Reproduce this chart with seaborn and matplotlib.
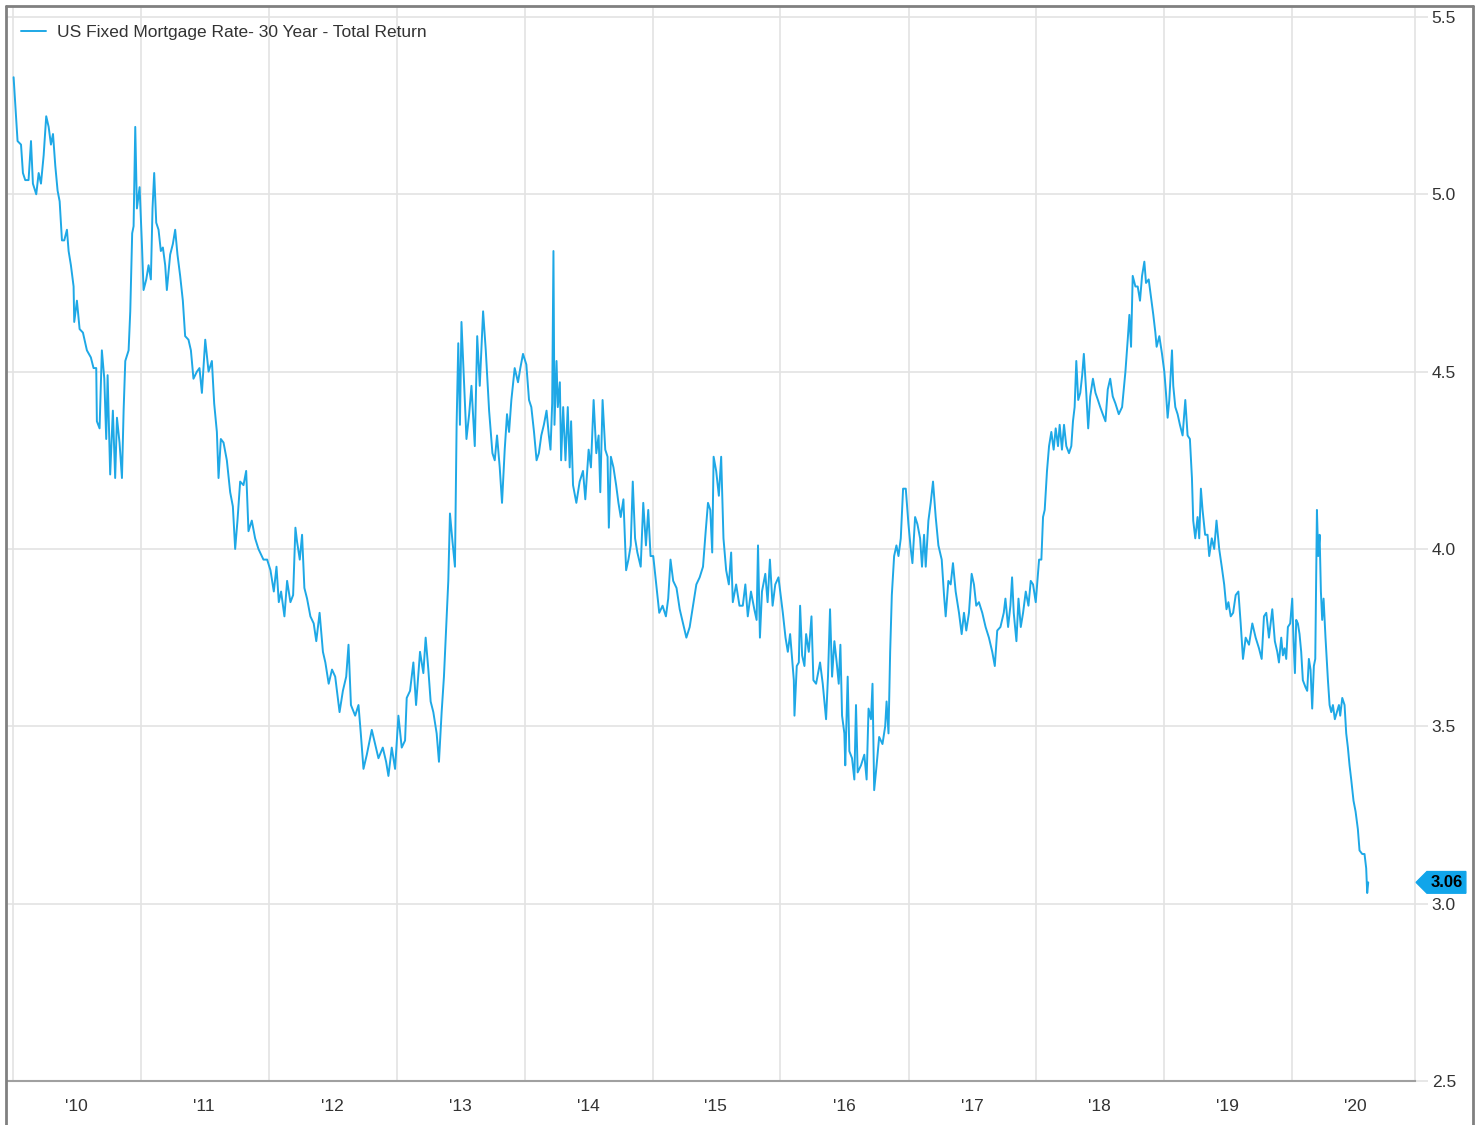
import matplotlib.pyplot as plt
import matplotlib.dates as mdates
from matplotlib.lines import Line2D
from matplotlib.path import Path
import numpy as np
import pandas as pd
import seaborn as sns

series_name = 'US Fixed Mortgage Rate- 30 Year - Total Return'

year_pos = [
    2010.005, 2010.036, 2010.063, 2010.078, 2010.096, 2010.122, 2010.141, 2010.156, 2010.182, 2010.201,
    2010.219, 2010.240, 2010.260, 2010.279, 2010.297, 2010.313, 2010.331, 2010.349, 2010.365, 2010.383,
    2010.401, 2010.422, 2010.435, 2010.453, 2010.474, 2010.479, 2010.500, 2010.521, 2010.547, 2010.578,
    2010.609, 2010.630, 2010.651, 2010.656, 2010.677, 2010.695, 2010.714, 2010.729, 2010.740, 2010.760,
    2010.781, 2010.799, 2010.813, 2010.833, 2010.852, 2010.865, 2010.878, 2010.904, 2010.917, 2010.932,
    2010.943, 2010.956, 2010.969, 2010.990, 2011.008, 2011.021, 2011.042, 2011.060, 2011.078, 2011.091,
    2011.104, 2011.120, 2011.138, 2011.156, 2011.172, 2011.190, 2011.203, 2011.229, 2011.250, 2011.268,
    2011.286, 2011.307, 2011.328, 2011.346, 2011.372, 2011.391, 2011.411, 2011.438, 2011.458, 2011.477,
    2011.503, 2011.529, 2011.555, 2011.573, 2011.594, 2011.607, 2011.625, 2011.646, 2011.672, 2011.698,
    2011.719, 2011.737, 2011.755, 2011.776, 2011.802, 2011.823, 2011.841, 2011.867, 2011.893, 2011.919,
    2011.958, 2011.987, 2012.013, 2012.039, 2012.060, 2012.078, 2012.096, 2012.122, 2012.143, 2012.169,
    2012.190, 2012.208, 2012.221, 2012.242, 2012.260, 2012.278, 2012.299, 2012.325, 2012.351, 2012.371,
    2012.397, 2012.423, 2012.442, 2012.468, 2012.494, 2012.519, 2012.553, 2012.579, 2012.605, 2012.623,
    2012.642, 2012.675, 2012.701, 2012.719, 2012.740, 2012.766, 2012.805, 2012.831, 2012.857, 2012.891,
    2012.917, 2012.935, 2012.961, 2012.987, 2013.013, 2013.039, 2013.065, 2013.078, 2013.104, 2013.130,
    2013.151, 2013.182, 2013.208, 2013.226, 2013.247, 2013.265, 2013.286, 2013.312, 2013.330, 2013.351,
    2013.369, 2013.384, 2013.403, 2013.416, 2013.436, 2013.455, 2013.468, 2013.481, 2013.494, 2013.506,
    2013.525, 2013.545, 2013.566, 2013.584, 2013.610, 2013.629, 2013.649, 2013.675, 2013.696, 2013.722,
    2013.748, 2013.766, 2013.784, 2013.805, 2013.823, 2013.844, 2013.862, 2013.878, 2013.896, 2013.922,
    2013.948, 2013.966, 2013.987, 2014.013, 2014.034, 2014.052, 2014.073, 2014.093, 2014.111, 2014.130,
    2014.150, 2014.171, 2014.189, 2014.202, 2014.215, 2014.225, 2014.233, 2014.249, 2014.259, 2014.275,
    2014.285, 2014.301, 2014.319, 2014.337, 2014.352, 2014.363, 2014.378, 2014.404, 2014.430, 2014.456,
    2014.474, 2014.500, 2014.518, 2014.539, 2014.560, 2014.578, 2014.591, 2014.609, 2014.630, 2014.648,
    2014.658, 2014.674, 2014.694, 2014.715, 2014.733, 2014.751, 2014.772, 2014.793, 2014.811, 2014.829,
    2014.845, 2014.863, 2014.881, 2014.907, 2014.927, 2014.948, 2014.966, 2014.984, 2015.005, 2015.031,
    2015.052, 2015.078, 2015.104, 2015.122, 2015.140, 2015.161, 2015.187, 2015.212, 2015.238, 2015.264,
    2015.290, 2015.316, 2015.342, 2015.368, 2015.394, 2015.415, 2015.433, 2015.451, 2015.466, 2015.477,
    2015.497, 2015.518, 2015.536, 2015.554, 2015.575, 2015.596, 2015.614, 2015.627, 2015.653, 2015.679,
    2015.705, 2015.725, 2015.744, 2015.769, 2015.795, 2015.813, 2015.824, 2015.839, 2015.855, 2015.881,
    2015.899, 2015.917, 2015.938, 2015.959, 2015.984, 2016.018, 2016.039, 2016.057, 2016.075, 2016.091,
    2016.104, 2016.109, 2016.127, 2016.143, 2016.153, 2016.169, 2016.187, 2016.200, 2016.221, 2016.242,
    2016.257, 2016.278, 2016.309, 2016.330, 2016.356, 2016.371, 2016.387, 2016.403, 2016.421, 2016.439,
    2016.455, 2016.468, 2016.481, 2016.499, 2016.506, 2016.525, 2016.538, 2016.559, 2016.577, 2016.590,
    2016.603, 2016.629, 2016.655, 2016.673, 2016.688, 2016.707, 2016.719, 2016.732, 2016.751, 2016.771,
    2016.797, 2016.818, 2016.829, 2016.844, 2016.857, 2016.870, 2016.888, 2016.906, 2016.922, 2016.940,
    2016.958, 2016.979, 2017.000, 2017.018, 2017.031, 2017.052, 2017.070, 2017.091, 2017.106, 2017.122,
    2017.135, 2017.156, 2017.174, 2017.192, 2017.213, 2017.234, 2017.260, 2017.278, 2017.291, 2017.312,
    2017.330, 2017.348, 2017.369, 2017.395, 2017.416, 2017.434, 2017.452, 2017.473, 2017.494, 2017.512,
    2017.530, 2017.551, 2017.577, 2017.603, 2017.629, 2017.655, 2017.675, 2017.694, 2017.719, 2017.745,
    2017.758, 2017.779, 2017.797, 2017.810, 2017.823, 2017.844, 2017.860, 2017.878, 2017.896, 2017.917,
    2017.938, 2017.956, 2017.974, 2017.995, 2018.021, 2018.039, 2018.052, 2018.065, 2018.083, 2018.099,
    2018.117, 2018.135, 2018.151, 2018.169, 2018.182, 2018.200, 2018.216, 2018.234, 2018.255, 2018.273,
    2018.286, 2018.299, 2018.312, 2018.327, 2018.343, 2018.358, 2018.371, 2018.390, 2018.405, 2018.421,
    2018.442, 2018.462, 2018.481, 2018.499, 2018.519, 2018.540, 2018.558, 2018.577, 2018.597, 2018.618,
    2018.644, 2018.670, 2018.696, 2018.714, 2018.727, 2018.740, 2018.753, 2018.774, 2018.792, 2018.810,
    2018.826, 2018.844, 2018.857, 2018.878, 2018.896, 2018.914, 2018.930, 2018.940, 2018.961, 2018.982,
    2019.000, 2019.013, 2019.026, 2019.039, 2019.060, 2019.070, 2019.086, 2019.104, 2019.122, 2019.143,
    2019.164, 2019.182, 2019.200, 2019.216, 2019.226, 2019.242, 2019.260, 2019.273, 2019.286, 2019.299,
    2019.319, 2019.338, 2019.351, 2019.371, 2019.390, 2019.408, 2019.429, 2019.449, 2019.468, 2019.486,
    2019.501, 2019.519, 2019.538, 2019.558, 2019.579, 2019.597, 2019.615, 2019.636, 2019.662, 2019.688,
    2019.714, 2019.740, 2019.761, 2019.779, 2019.797, 2019.818, 2019.844, 2019.864, 2019.883, 2019.896,
    2019.914, 2019.927, 2019.940, 2019.953, 2019.966, 2019.984, 2020.000, 2020.010, 2020.021, 2020.031,
    2020.044, 2020.057, 2020.070, 2020.083, 2020.104, 2020.117, 2020.130, 2020.143, 2020.156, 2020.169,
    2020.180, 2020.193, 2020.203, 2020.214, 2020.224, 2020.234, 2020.245, 2020.260, 2020.279, 2020.292,
    2020.305, 2020.318, 2020.333, 2020.349, 2020.365, 2020.375, 2020.391, 2020.409, 2020.422, 2020.435,
    2020.448, 2020.461, 2020.479, 2020.495, 2020.513, 2020.526, 2020.547, 2020.565, 2020.578, 2020.586,
    2020.594,
]

rate = [
    5.33, 5.15, 5.14, 5.06, 5.04, 5.04, 5.15, 5.03, 5.00, 5.06,
    5.03, 5.11, 5.22, 5.19, 5.14, 5.17, 5.08, 5.01, 4.98, 4.87,
    4.87, 4.90, 4.84, 4.80, 4.74, 4.64, 4.70, 4.62, 4.61, 4.56,
    4.54, 4.51, 4.51, 4.36, 4.34, 4.56, 4.48, 4.31, 4.49, 4.21,
    4.39, 4.20, 4.37, 4.30, 4.20, 4.39, 4.53, 4.56, 4.67, 4.89,
    4.91, 5.19, 4.96, 5.02, 4.86, 4.73, 4.76, 4.80, 4.76, 4.96,
    5.06, 4.92, 4.90, 4.84, 4.85, 4.80, 4.73, 4.83, 4.86, 4.90,
    4.83, 4.77, 4.70, 4.60, 4.59, 4.56, 4.48, 4.50, 4.51, 4.44,
    4.59, 4.50, 4.53, 4.41, 4.33, 4.20, 4.31, 4.30, 4.25, 4.16,
    4.12, 4.00, 4.08, 4.19, 4.18, 4.22, 4.05, 4.08, 4.03, 4.00,
    3.97, 3.97, 3.94, 3.88, 3.95, 3.85, 3.88, 3.81, 3.91, 3.85,
    3.87, 4.06, 4.02, 3.97, 4.04, 3.89, 3.86, 3.81, 3.79, 3.74,
    3.82, 3.71, 3.68, 3.62, 3.66, 3.64, 3.54, 3.60, 3.64, 3.73,
    3.56, 3.53, 3.56, 3.48, 3.38, 3.42, 3.49, 3.45, 3.41, 3.44,
    3.40, 3.36, 3.44, 3.38, 3.53, 3.44, 3.46, 3.58, 3.60, 3.68,
    3.56, 3.71, 3.65, 3.75, 3.66, 3.57, 3.54, 3.48, 3.40, 3.54,
    3.64, 3.76, 3.91, 4.10, 4.02, 3.95, 4.35, 4.58, 4.35, 4.64,
    4.48, 4.31, 4.38, 4.46, 4.29, 4.60, 4.46, 4.67, 4.56, 4.39,
    4.27, 4.25, 4.32, 4.23, 4.13, 4.28, 4.38, 4.33, 4.42, 4.51,
    4.47, 4.51, 4.55, 4.52, 4.42, 4.40, 4.33, 4.25, 4.27, 4.32,
    4.35, 4.39, 4.32, 4.28, 4.41, 4.84, 4.35, 4.53, 4.40, 4.47,
    4.25, 4.40, 4.25, 4.40, 4.23, 4.36, 4.18, 4.13, 4.19, 4.22,
    4.14, 4.28, 4.23, 4.42, 4.27, 4.32, 4.16, 4.42, 4.28, 4.26,
    4.06, 4.26, 4.23, 4.18, 4.13, 4.09, 4.14, 3.94, 3.97, 4.01,
    4.19, 4.03, 3.99, 3.95, 4.13, 4.01, 4.11, 3.98, 3.98, 3.89,
    3.82, 3.84, 3.81, 3.86, 3.97, 3.91, 3.89, 3.83, 3.79, 3.75,
    3.78, 3.84, 3.90, 3.92, 3.95, 4.05, 4.13, 4.11, 3.99, 4.26,
    4.22, 4.15, 4.26, 4.03, 3.94, 3.90, 3.99, 3.85, 3.90, 3.84,
    3.84, 3.90, 3.81, 3.88, 3.83, 3.80, 4.01, 3.75, 3.88, 3.93,
    3.85, 3.97, 3.84, 3.90, 3.92, 3.82, 3.75, 3.71, 3.76, 3.69,
    3.63, 3.53, 3.67, 3.68, 3.84, 3.70, 3.67, 3.76, 3.71, 3.81,
    3.63, 3.62, 3.68, 3.62, 3.52, 3.64, 3.83, 3.64, 3.74, 3.68,
    3.62, 3.73, 3.53, 3.48, 3.39, 3.64, 3.43, 3.41, 3.35, 3.56,
    3.37, 3.39, 3.42, 3.35, 3.55, 3.52, 3.62, 3.32, 3.39, 3.47,
    3.45, 3.50, 3.57, 3.48, 3.71, 3.87, 3.98, 4.01, 3.98, 4.03,
    4.17, 4.17, 4.07, 4.00, 3.96, 4.09, 4.07, 4.03, 3.95, 4.04,
    3.95, 4.08, 4.13, 4.19, 4.09, 4.01, 3.97, 3.87, 3.81, 3.91,
    3.90, 3.96, 3.88, 3.82, 3.76, 3.82, 3.77, 3.82, 3.93, 3.90,
    3.84, 3.85, 3.82, 3.78, 3.75, 3.71, 3.67, 3.77, 3.78, 3.82,
    3.86, 3.78, 3.84, 3.92, 3.82, 3.74, 3.86, 3.78, 3.82, 3.88,
    3.84, 3.91, 3.90, 3.85, 3.97, 3.97, 4.09, 4.11, 4.22, 4.29,
    4.33, 4.28, 4.34, 4.29, 4.35, 4.28, 4.35, 4.29, 4.27, 4.29,
    4.36, 4.40, 4.53, 4.42, 4.44, 4.49, 4.55, 4.44, 4.34, 4.43,
    4.48, 4.44, 4.42, 4.40, 4.38, 4.36, 4.45, 4.48, 4.43, 4.41,
    4.38, 4.40, 4.50, 4.59, 4.66, 4.57, 4.77, 4.74, 4.74, 4.70,
    4.77, 4.81, 4.75, 4.76, 4.71, 4.66, 4.61, 4.57, 4.60, 4.55,
    4.50, 4.44, 4.37, 4.42, 4.56, 4.46, 4.40, 4.38, 4.35, 4.32,
    4.42, 4.32, 4.31, 4.20, 4.08, 4.03, 4.09, 4.03, 4.17, 4.11,
    4.04, 4.04, 3.98, 4.03, 4.00, 4.08, 4.00, 3.95, 3.90, 3.83,
    3.85, 3.81, 3.82, 3.87, 3.88, 3.79, 3.69, 3.75, 3.73, 3.79,
    3.75, 3.72, 3.69, 3.81, 3.82, 3.75, 3.83, 3.74, 3.71, 3.68,
    3.75, 3.70, 3.72, 3.69, 3.78, 3.79, 3.86, 3.74, 3.65, 3.80,
    3.79, 3.76, 3.71, 3.63, 3.61, 3.60, 3.69, 3.66, 3.55, 3.67,
    3.69, 4.11, 3.98, 4.04, 3.88, 3.80, 3.86, 3.75, 3.63, 3.56,
    3.54, 3.56, 3.52, 3.54, 3.56, 3.53, 3.58, 3.56, 3.48, 3.44,
    3.39, 3.35, 3.29, 3.26, 3.21, 3.15, 3.14, 3.14, 3.10, 3.03,
    3.06,
]

y_ticks = [2.5, 3.0, 3.5, 4.0, 4.5, 5.0, 5.5]
years = list(range(2010, 2021))
year_labels = ["'10", "'11", "'12", "'13", "'14", "'15", "'16", "'17", "'18", "'19", "'20"]

LINE = '#1ea8e6'
TAG = '#10a5ea'
GRID = '#e3e3e3'
TEXT = '#333333'

dates = pd.Timestamp('2010-01-01') + pd.to_timedelta((np.array(year_pos) - 2010) * 365.25, unit='D')
df = pd.DataFrame({'date': dates, 'rate': rate})

sns.set_style('white')
plt.rcParams['font.family'] = ['Liberation Sans', 'DejaVu Sans']

W, H = 1482, 1125
fig = plt.figure(figsize=(W / 100, H / 100), dpi=100)
ax = fig.add_axes([7 / W, 44 / H, (1415 - 7) / W, (1118 - 44) / H])

sns.lineplot(data=df, x='date', y='rate', ax=ax, color=LINE, linewidth=1.4, label=series_name)

ax.set_xlim(pd.Timestamp('2009-12-15'), pd.Timestamp('2020-12-17'))
ax.set_ylim(2.5, 5.528)
ax.set_xlabel('')
ax.set_ylabel('')

# year boundaries: gridlines + long ticks, quarters: short ticks
year_starts = mdates.date2num([pd.Timestamp(f'{y}-01-01') for y in years])
quarters = mdates.date2num(pd.date_range('2010-01-01', '2020-12-01', freq='QS'))
ax.set_xticks(year_starts)
ax.set_xticks(quarters, minor=True)
ax.tick_params(axis='x', which='major', length=9, width=1.2, color=GRID, labelbottom=False)
ax.tick_params(axis='x', which='minor', length=4, width=1.0, color='#cfcfcf')

# year labels centred in each year
mid_year = mdates.date2num([pd.Timestamp(f'{y}-07-01') for y in years])
sec = ax.secondary_xaxis('bottom')
sec.set_xticks(mid_year, labels=year_labels)
sec.tick_params(length=0, pad=13, labelsize=12.5, labelcolor=TEXT)
sec.spines['bottom'].set_visible(False)

ax.yaxis.tick_right()
ax.set_yticks(y_ticks, labels=[f'{v:.1f}' for v in y_ticks])
ax.tick_params(axis='y', length=9, width=1.2, color=GRID, pad=3, labelsize=12.5, labelcolor=TEXT)

ax.grid(True, which='major', color=GRID, linewidth=1.2)
ax.set_axisbelow(True)

for side in ['left', 'top']:
    ax.spines[side].set_visible(False)
ax.spines['right'].set_color(GRID)
ax.spines['right'].set_linewidth(1.2)
ax.spines['bottom'].set_color('#a0a0a0')
ax.spines['bottom'].set_linewidth(1.5)

leg = ax.legend(loc='upper left', bbox_to_anchor=(0.0015, 0.995), frameon=False, fontsize=12.5,
                handlelength=1.45, handletextpad=0.63, borderaxespad=0.4, borderpad=0.3)
for t in leg.get_texts():
    t.set_color(TEXT)


def tag_box(x0, y0, width, height, mutation_size):
    pad = 0.2 * mutation_size
    x0, y0 = x0 - pad, y0 - pad
    width, height = width + 2 * pad, height + 2 * pad
    tip = height / 2
    verts = [(x0 - tip, y0 + height / 2), (x0, y0), (x0 + width, y0),
             (x0 + width, y0 + height), (x0, y0 + height), (x0 - tip, y0 + height / 2)]
    return Path(verts, closed=True)


ax.annotate(f'{rate[-1]:.2f}', xy=(1, rate[-1]), xycoords=('axes fraction', 'data'),
            xytext=(11, 0), textcoords='offset points', ha='left', va='center',
            fontsize=12, fontweight='bold', color='black',
            bbox=dict(boxstyle=tag_box, fc=TAG, ec=TAG), annotation_clip=False, zorder=5)

# outer frame
frame = dict(color='#808080', linewidth=2, transform=fig.transFigure)
fig.add_artist(Line2D([6 / W, 6 / W], [0, 1 - 6 / H], **frame))
fig.add_artist(Line2D([6 / W, 1473 / W], [1 - 6 / H, 1 - 6 / H], **frame))
fig.add_artist(Line2D([1473 / W, 1473 / W], [0, 1 - 6 / H], **frame))

fig.savefig('out.png', dpi=100)
